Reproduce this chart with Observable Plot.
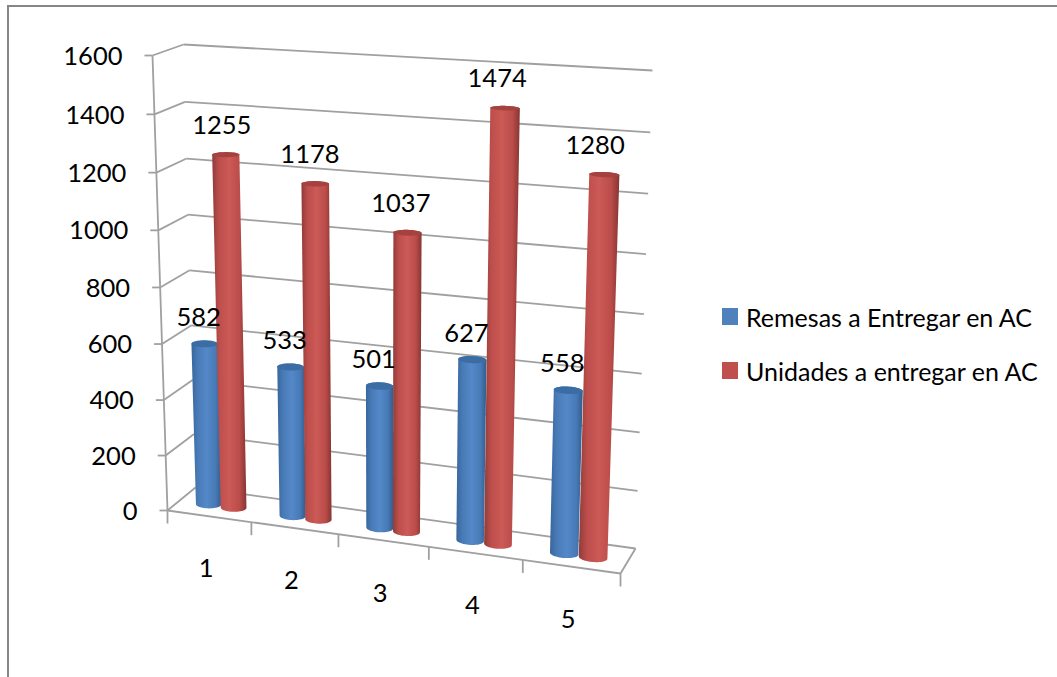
<!DOCTYPE html>
<html lang="es">
<head>
<meta charset="utf-8">
<title>Remesas y unidades a entregar en AC</title>
<script src="https://cdn.jsdelivr.net/npm/d3@7"></script>
<script src="https://cdn.jsdelivr.net/npm/@observablehq/plot@0.6"></script>
<style>
  html, body { margin: 0; background: #fff; }
  #frame { position: relative; width: 1057px; height: 677px; overflow: hidden; font-family: Lato, sans-serif; color: #000; }
  #frame::before { content: ""; position: absolute; left: 7px; top: 5px; right: -4px; bottom: -4px; border: 2px solid #868686; }
  #frame svg { position: absolute; left: 0; top: 0; }
  .legend-row { position: absolute; left: 722px; display: flex; align-items: center; font-size: 25px; white-space: nowrap; }
  .legend-row i { display: block; width: 16px; height: 17px; margin-right: 8px; }
</style>
</head>
<body>
<div id="frame"></div>
<script>
// Chart values
const categories = [1, 2, 3, 4, 5];
const remesas = [582, 533, 501, 627, 558];
const unidades = [1255, 1178, 1037, 1474, 1280];
const seriesNames = ["Remesas a Entregar en AC", "Unidades a entregar en AC"];
const valueTicks = [0, 200, 400, 600, 800, 1000, 1200, 1400, 1600];
const maxValue = 1600;

// Corners of the 3D box on screen: f/b = front/back, l/r = left/right, 0/1 = floor/ceiling
const box = {
  fl0: [167, 510], fr0: [620, 573], bl0: [195, 487], br0: [635, 548],
  fl1: [152, 55],  fr1: [636, 82],  bl1: [183, 44],  br1: [652, 70]
};
// Foreshortening along the category and value directions
const warp = (u, k) => u / (u + (1 - u) * k);
const mix = (a, b, u) => a + (b - a) * u;

// Project (category position 0..1, depth 0..1, value) onto the picture plane
function project(t, d, v) {
  const p = warp(t, 1.1), q = warp(v / maxValue, 1.04);
  return [0, 1].map((c) => {
    const floor = mix(mix(box.fl0[c], box.fr0[c], p), mix(box.bl0[c], box.br0[c], p), d);
    const top = mix(mix(box.fl1[c], box.fr1[c], p), mix(box.bl1[c], box.br1[c], p), d);
    return mix(floor, top, q);
  });
}
const seg = (a, b, extra = {}) => ({x1: a[0], y1: a[1], x2: b[0], y2: b[1], ...extra});

// Walls and floor
const wallLines = valueTicks.flatMap((v) => [
  seg(project(0, 0, v), project(0, 1, v)),
  seg(project(0, 1, v), project(1, 1, v))
]);
const frameLines = [
  seg(project(0, 0, 0), project(0, 0, maxValue)),
  seg(project(0, 0, 0), project(1, 0, 0)),
  seg(project(1, 0, 0), project(1, 1, 0))
];
const valueTickLines = valueTicks.map((v) => {
  const p = project(0, 0, v);
  return seg(p, [p[0] - 8, p[1]]);
});
const categoryTickLines = d3.range(categories.length + 1).map((i) => {
  const p = project(i / categories.length, 0, 0);
  return seg(p, [p[0], p[1] + 13]);
});

// Cylinders: silhouette of the two end ellipses, plus the cap ellipse
const radiusT = 0.029, radiusD = 0.17, offsetT = 0.03, midDepth = 0.45;
const angles = d3.range(0, 2 * Math.PI, Math.PI / 24);
function ellipse(tc, v) {
  return angles.map((a) => project(tc + radiusT * Math.cos(a), midDepth + radiusD * Math.sin(a), v));
}
function cylinders(values, side) {
  const bodies = [], caps = [];
  values.forEach((v, i) => {
    const tc = (i + 0.5) / categories.length + side * offsetT;
    const hull = d3.polygonHull([...ellipse(tc, 0), ...ellipse(tc, v)]);
    [...hull, hull[0]].forEach(([x, y]) => bodies.push({id: i, x, y}));
    const cap = ellipse(tc, v);
    [...cap, cap[0]].forEach(([x, y]) => caps.push({id: i, x, y}));
  });
  return {bodies, caps};
}
const blue = cylinders(remesas, -1);
const red = cylinders(unidades, 1);

// Text labels anchored to their projected positions
const dataLabels = (values, side, drift) => values.map((v, i) => {
  const [x, y] = project((i + 0.5) / categories.length + side * offsetT, midDepth, v);
  return {x: x - drift * i, y, text: String(v)};
});
const valueLabels = valueTicks.map((v) => {
  const [x, y] = project(0, 0, v);
  return {x, y, text: String(v)};
});
const categoryLabels = categories.map((c, i) => {
  const [x, y] = project((i + 0.5) / categories.length, 0, 0);
  return {x, y, text: String(c)};
});

const gradient = (id, stops) =>
  `<linearGradient id="${id}" x1="0" x2="1" y1="0" y2="0">` +
  stops.map(([o, c]) => `<stop offset="${o}" stop-color="${c}"/>`).join("") +
  `</linearGradient>`;

const gradients = () => {
  const defs = document.createElementNS("http://www.w3.org/2000/svg", "defs");
  defs.innerHTML =
    gradient("cyl-blue", [[0, "#37669c"], [0.2, "#487ab6"], [0.5, "#5488c8"], [0.8, "#477ab6"], [1, "#315c8c"]]) +
    gradient("cyl-red", [[0, "#8e3c39"], [0.2, "#bd4e4b"], [0.5, "#cc5a57"], [0.8, "#ba4c49"], [1, "#863532"]]);
  return defs;
};

const grey = "#a0a0a0";
const lineStyle = {x1: "x1", y1: "y1", x2: "x2", y2: "y2", stroke: grey, strokeWidth: 1.8};
const labelFont = {fontFamily: "Lato, sans-serif", fontSize: 25.5, fill: "#000", text: "text", x: "x", y: "y"};
const cylinder = (data, fill) => Plot.line(data, {x: "x", y: "y", z: "id", fill, stroke: "none", curve: "linear"});

const chart = Plot.plot({
  width: 1057,
  height: 677,
  margin: 0,
  style: {background: "transparent"},
  x: {domain: [0, 1057], range: [0, 1057], axis: null},
  y: {domain: [0, 677], range: [0, 677], axis: null},
  marks: [
    gradients,
    Plot.link(wallLines, lineStyle),
    Plot.link(frameLines, lineStyle),
    Plot.link(valueTickLines, lineStyle),
    Plot.link(categoryTickLines, lineStyle),
    cylinder(blue.bodies, "url(#cyl-blue)"),
    cylinder(blue.caps, "#3b6ca4"),
    cylinder(red.bodies, "url(#cyl-red)"),
    cylinder(red.caps, "#a5423f"),
    Plot.text(valueLabels, {...labelFont, textAnchor: "end", dx: -30, dy: 1}),
    Plot.text(categoryLabels, {...labelFont, dx: -3, dy: 53}),
    Plot.text(dataLabels(remesas, -1, 0), {...labelFont, dx: -6, dy: -26}),
    Plot.text(dataLabels(unidades, 1, 1.3), {...labelFont, dx: -4, dy: -29})
  ]
});

const frame = document.getElementById("frame");
frame.append(chart);

// Legend beside the plot
seriesNames.forEach((name, i) => {
  const row = document.createElement("div");
  row.className = "legend-row";
  row.style.top = (i === 0 ? 302 : 356) + "px";
  row.style.height = "29px";
  const key = document.createElement("i");
  key.style.background = i === 0 ? "#4f81bd" : "#c0504d";
  row.append(key, name);
  frame.append(row);
});
</script>
</body>
</html>
